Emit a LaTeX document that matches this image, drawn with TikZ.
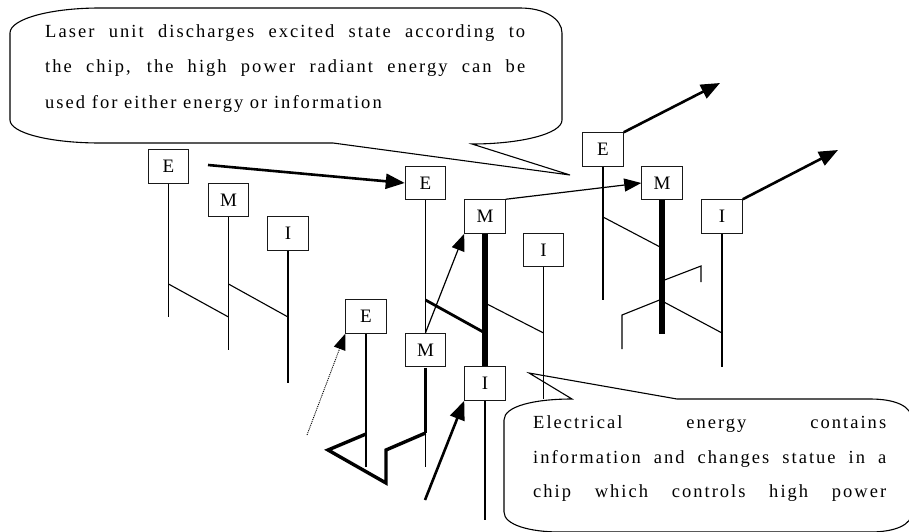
\documentclass[tikz,border=0pt]{standalone}
\usepackage{fontspec}
\setmainfont{Liberation Serif}
\newfontfamily\trackfont[LetterSpace=11]{Liberation Serif}
\usetikzlibrary{arrows.meta}
\tikzset{
  box/.style={draw=black!90, line width=1pt, fill=white, minimum width=40.5pt, minimum height=33.5pt, inner sep=0pt, font=\fontsize{19}{22}\selectfont},
  thinline/.style={line width=1.1pt},
  midline/.style={line width=2.8pt, line cap=butt},
  fatline/.style={line width=5.5pt, line cap=butt},
  zig/.style={line width=3.4pt, line join=miter},
  bigarrow/.style={line width=2.6pt, -{Triangle[length=19pt,width=15pt]}},
  smallarrow/.style={line width=1.2pt, -{Triangle[length=17pt,width=13pt]}},
  dotarrow/.style={line width=0.9pt, dash pattern=on 1pt off 1pt, -{Triangle[length=16pt,width=12pt]}},
  callout/.style={draw=black, line width=1.1pt, fill=white},
  ctext/.style={anchor=base west, inner sep=0pt, font=\trackfont\fontsize{18.5}{22}\selectfont},
}
\begin{document}
\begin{tikzpicture}[x=1pt,y=-1pt]
\clip (0,0) rectangle (909,532);
\fill[white] (0,0) rectangle (909,532);

% callout 1
\draw[callout] (10,33) .. controls (10,19) and (50,8) .. (100,8) -- (520,8)
  .. controls (545,8) and (562,19) .. (562,33) -- (562,120)
  .. controls (562,134) and (520,144) .. (472,144) -- (570,175) -- (333,143) -- (100,143)
  .. controls (50,143) and (10,133) .. (10,120) -- cycle;
\node[ctext] (t1a) at (45,38) {\makebox[480pt][s]{Laser unit discharges excited state according to}};
\node[ctext] (t1b) at (45,73) {\makebox[480pt][s]{the chip, the high power radiant energy can be}};
\node[ctext] (t1c) at (45,109) {used for either energy or information};

% callout 2
\draw[callout] (504,420) .. controls (504,406) and (535,399) .. (572,399) -- (529,373) -- (677,399) -- (870,399)
  .. controls (895,399) and (912,406) .. (912,420) -- (912,512)
  .. controls (912,525) and (895,532) .. (870,532) -- (560,532)
  .. controls (530,532) and (504,525) .. (504,512) -- cycle;
\node[ctext] (t2a) at (533,428) {\makebox[353pt][s]{Electrical energy contains}};
\node[ctext] (t2b) at (533,463) {\makebox[353pt][s]{information and changes statue in a}};
\node[ctext] (t2c) at (533,497) {\makebox[353pt][s]{chip which controls high power}};

% boxes
\node[box] (E1) at (168.5,166.5) {E};
\node[box] (M1) at (228.5,200) {M};
\node[box] (I1) at (288,233.5) {I};
\node[box] (E2) at (425.5,183) {E};
\node[box] (M4) at (485,216.5) {M};
\node[box] (I3) at (543.5,250) {I};
\node[box] (E3) at (366,316.5) {E};
\node[box] (M3) at (425.5,350) {M};
\node[box] (I2) at (485,383.5) {I};
\node[box] (E4) at (603,149.5) {E};
\node[box] (M2) at (662,183) {M};
\node[box] (I4) at (722,216.5) {I};

% coordinates
\coordinate (e1b) at (168.5,317);
\coordinate (e1k) at (168.5,284);
\coordinate (m1b) at (228.5,350);
\coordinate (m1k) at (228.5,284);
\coordinate (m1j) at (228.5,317);
\coordinate (i1b) at (288,383);
\coordinate (i1j) at (288,317);

\coordinate (e2k) at (425.5,300);
\coordinate (m4j) at (485,333);
\coordinate (m4k) at (485,303);
\coordinate (i3j) at (543.5,333);
\coordinate (i3b) at (543.5,399);
\coordinate (m3t) at (425.5,433);
\coordinate (m3b) at (425.5,467);
\coordinate (e3k) at (366,434);
\coordinate (e3b) at (366,467);
\coordinate (z1) at (328,450);
\coordinate (z2) at (386,483);
\coordinate (z3) at (386,450);
\coordinate (i2b) at (485,520);
\coordinate (dotstart) at (307,435);
\coordinate (i2start) at (425,500);
\coordinate (e1start) at (208,165);

\coordinate (e4b) at (603,300);
\coordinate (e4k) at (603,217);
\coordinate (m2j) at (662,248);
\coordinate (m2b) at (662,334);
\coordinate (m2k1) at (662,281);
\coordinate (r1) at (701,266);
\coordinate (r2) at (701,282);
\coordinate (m2k2) at (662,299);
\coordinate (l1) at (622,315);
\coordinate (l2) at (622,349);
\coordinate (m2k3) at (662,301);
\coordinate (i4j) at (722,333);
\coordinate (i4b) at (722,367);
\coordinate (e4tip) at (720,83);
\coordinate (i4tip) at (838,150);

% left group
\draw[thinline] (E1.south) -- (e1b);
\draw[thinline] (M1.south) -- (m1b);
\draw[thinline] (I1.south) -- (i1b);
\draw[thinline] (e1k) -- (m1j);
\draw[thinline] (m1k) -- (i1j);

% middle group
\draw[thinline] (E2.south) -- (M3.north);
\draw[fatline] (M4.south) -- (I2.north);
\draw[thinline] (I3.south) -- (i3b);
\draw[thinline] (E3.south) -- (e3b);
\draw[midline] ([yshift=-0.5pt]M3.south) -- (m3t);
\draw[thinline] (m3t) -- (m3b);
\draw[thinline] (I2.south) -- (i2b);
\draw[midline] (e2k) -- (m4j);
\draw[thinline] (m4k) -- (i3j);
\draw[zig] (e3k) -- (z1) -- (z2) -- (z3) -- (m3t);

% right group
\draw[thinline] (E4.south) -- (e4b);
\draw[fatline] (M2.south) -- (m2b);
\draw[thinline] (I4.south) -- (i4b);
\draw[thinline] (e4k) -- (m2j);
\draw[thinline] (m2k1) -- (r1) -- (r2);
\draw[thinline] (m2k2) -- (l1) -- (l2);
\draw[thinline] (m2k3) -- (i4j);

% arrows
\draw[bigarrow] (e1start) -- (E2.west);
\draw[smallarrow] (M3.north) -- (M4.south west);
\draw[dotarrow] (dotstart) -- (E3.south west);
\draw[bigarrow] (i2start) -- (I2.south west);
\draw[smallarrow] (M4.north east) -- (M2.west);
\draw[bigarrow] (E4.north east) -- (e4tip);
\draw[bigarrow] (I4.north east) -- (i4tip);
\end{tikzpicture}
\end{document}
